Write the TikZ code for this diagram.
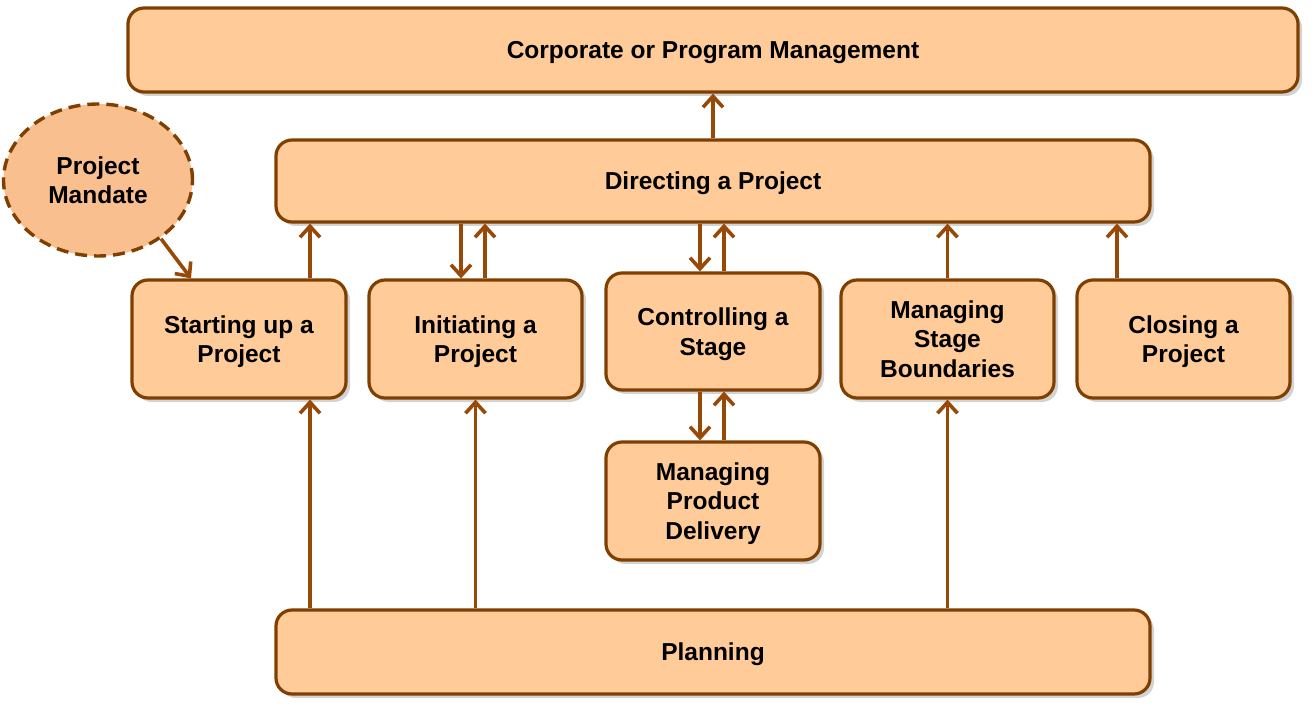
\documentclass[tikz,border=0pt]{standalone}
\usepackage{fontspec}
\setmainfont{Liberation Sans}
\usetikzlibrary{shapes.geometric,arrows.meta,shadows}
\definecolor{boxfill}{HTML}{FFCC99}
\definecolor{boxline}{HTML}{7F3F00}
\definecolor{arr}{HTML}{984807}
\definecolor{ellfill}{HTML}{F9BF8F}
\tikzset{
  pbox/.style={draw=boxline, line width=3.2pt, fill=boxfill, rounded corners=16pt,
    drop shadow={opacity=0.35, shadow xshift=4pt, shadow yshift=-4pt},
    align=center, font=\fontsize{24.5}{29.5}\selectfont\bfseries, inner sep=0pt, text depth=0pt},
  conn/.style={draw=arr, line width=3.6pt, -{Straight Barb[length=11pt,width=20pt,line width=3.6pt]}},
}
\begin{document}
\begin{tikzpicture}[x=1pt,y=-1pt]
\useasboundingbox (0,0) rectangle (1315,711);
% nodes
\node[pbox, minimum width=1170pt, minimum height=84pt] (corp) at (713,50) {Corporate or Program Management};
\node[pbox, minimum width=874pt, minimum height=82pt] (dir) at (713,181) {Directing a Project};
\node[draw=boxline, line width=3.4pt, dash pattern=on 12pt off 7pt, fill=ellfill, ellipse,
  minimum width=189pt, minimum height=152pt, inner sep=0pt, align=center, text depth=0pt,
  font=\fontsize{24.5}{29.5}\selectfont\bfseries] (mand) at (98,180) {Project\\Mandate};
\node[pbox, minimum width=214pt, minimum height=118pt] (start) at (239,339) {Starting up a\\Project};
\node[pbox, minimum width=213pt, minimum height=118pt] (init) at (475.5,339) {Initiating a\\Project};
\node[pbox, minimum width=214pt, minimum height=117pt] (ctrl) at (713,331.5) {Controlling a\\Stage};
\node[pbox, minimum width=213pt, minimum height=118pt] (msb) at (947.5,339) {Managing\\Stage\\Boundaries};
\node[pbox, minimum width=213pt, minimum height=118pt] (close) at (1183.5,339) {Closing a\\Project};
\node[pbox, minimum width=214pt, minimum height=118pt] (mpd) at (713,501) {Managing\\Product\\Delivery};
\node[pbox, minimum width=874pt, minimum height=84pt] (plan) at (713,652) {Planning};
% connectors
\draw[conn] (dir.north) -- (corp.south);
\draw[conn] (start.north -| 310,0) -- (dir.south -| 310,0);
\draw[conn] (dir.south -| 461,0) -- (init.north -| 461,0);
\draw[conn] (init.north -| 485,0) -- (dir.south -| 485,0);
\draw[conn] (dir.south -| 700,0) -- (ctrl.north -| 700,0);
\draw[conn] (ctrl.north -| 724,0) -- (dir.south -| 724,0);
\draw[conn] (ctrl.south -| 700,0) -- (mpd.north -| 700,0);
\draw[conn] (mpd.north -| 724,0) -- (ctrl.south -| 724,0);
\draw[conn] (msb.north) -- (dir.south -| msb.north);
\draw[conn] (close.north -| 1117,0) -- (dir.south -| 1117,0);
\draw[conn] (plan.north -| 310,0) -- (start.south -| 310,0);
\draw[conn] (plan.north -| init.south) -- (init.south);
\draw[conn] (plan.north -| msb.south) -- (msb.south);
\draw[conn] (mand.-43) -- (start.north -| 191,0);
\end{tikzpicture}
\end{document}
